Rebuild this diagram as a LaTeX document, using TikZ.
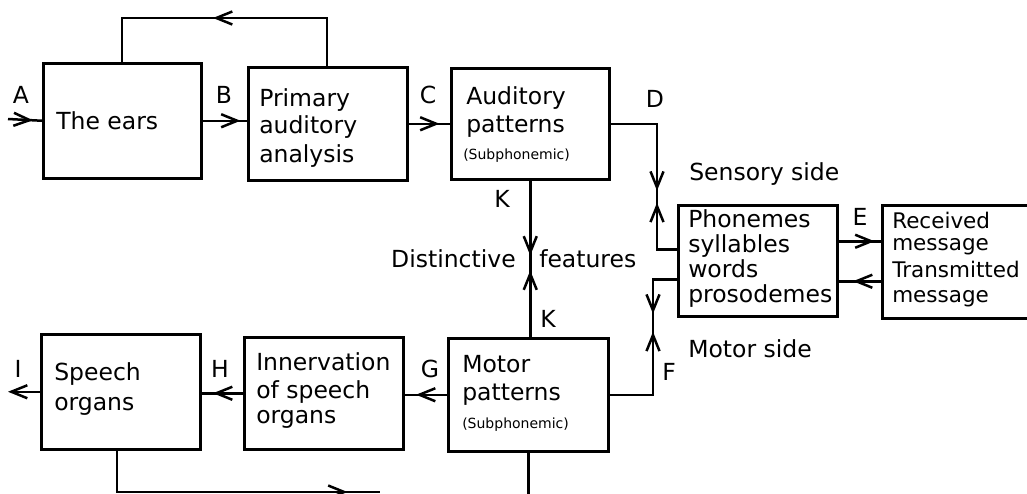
\documentclass[tikz,border=0pt]{standalone}
\usepackage{fontspec}
\setmainfont{DejaVu Sans}
\usetikzlibrary{arrows.meta,decorations.markings}
\begin{document}
\begin{tikzpicture}[x=1pt,y=-1pt, line width=2.5pt,
  >={Straight Barb[length=16pt,width=13pt]},
  box/.style={draw, inner sep=0pt, anchor=north west},
  txt/.style={font=\fontsize{23.5}{27}\selectfont, inner sep=0pt, anchor=base west},
  rtxt/.style={font=\fontsize{21.5}{25}\selectfont, inner sep=0pt, anchor=base west},
  sml/.style={font=\fontsize{14}{17}\selectfont, inner sep=0pt, anchor=base west},
  lbl/.style={font=\fontsize{23.5}{27}\selectfont, inner sep=0pt, anchor=base},
  marks/.style={postaction={decorate}, decoration={markings, #1}}]
\useasboundingbox (0,0) rectangle (1027,493);
\clip (0,0) rectangle (1027,493);

% boxes
\node[box, minimum width=158pt, minimum height=115pt] (ears) at (42,62) {};
\node[box, minimum width=159pt, minimum height=113pt] (prim) at (247,66) {};
\node[box, minimum width=158pt, minimum height=111pt] (aud) at (450,67) {};
\node[box, minimum width=159pt, minimum height=111pt] (ph) at (677,204) {};
\node[box, minimum width=170pt, minimum height=113pt] (rec) at (881,204) {};
\node[box, minimum width=160pt, minimum height=113pt] (motor) at (447,337) {};
\node[box, minimum width=159pt, minimum height=112pt] (innerv) at (243,336) {};
\node[box, minimum width=159pt, minimum height=115pt] (speech) at (40,333) {};

% texts
\node[lbl] (la) at (21,103) {A};
\node[txt] (t1) at (55,129) {The ears};
\node[lbl] (lb) at (224,103) {B};
\node[txt] (t2a) at (258,106) {Primary};
\node[txt] (t2b) at (258,133) {auditory};
\node[txt] (t2c) at (258,162) {analysis};
\node[lbl] (lc) at (428,103) {C};
\node[txt] (t3a) at (465,104) {Auditory};
\node[txt] (t3b) at (465,132) {patterns};
\node[sml] (t3c) at (462,159) {(Subphonemic)};
\node[lbl] (ld) at (655,107) {D};
\node[txt] (sens) at (688,180) {Sensory side};
\node[lbl] (lk1) at (502,207) {K};
\node[txt, anchor=base east] (dist) at (517,267) {Distinctive};
\node[txt] (feat) at (538,267) {features};
\node[txt] (t4a) at (687,227) {Phonemes};
\node[txt] (t4b) at (687,252) {syllables};
\node[txt] (t4c) at (687,277) {words};
\node[txt] (t4d) at (687,302) {prosodemes};
\node[lbl] (le) at (860,225) {E};
\node[rtxt] (t5a) at (891,228) {Received};
\node[rtxt] (t5b) at (891,250) {message};
\node[rtxt] (t5c) at (891,277) {Transmitted};
\node[rtxt] (t5d) at (891,302) {message};
\node[lbl] (lk2) at (548,327) {K};
\node[txt] (mside) at (687,357) {Motor side};
\node[lbl] (lf) at (669,380) {F};
\node[txt] (t6a) at (461,372) {Motor};
\node[txt] (t6b) at (461,400) {patterns};
\node[sml] (t6c) at (461,428) {(Subphonemic)};
\node[lbl] (lg) at (430,377) {G};
\node[lbl] (lh) at (220,377) {H};
\node[lbl] (li) at (18,377) {I};
\node[txt] (t7a) at (53,380) {Speech};
\node[txt] (t7b) at (53,410) {organs};
\node[txt] (t8a) at (255,370) {Innervation};
\node[txt] (t8b) at (255,398) {of speech};
\node[txt] (t8c) at (255,423) {organs};

% helper coordinates
\coordinate (ain) at (8,119);
\coordinate (fb1) at (327,18);
\coordinate (fb2) at (122,18);
\coordinate (dx) at (657,0);
\coordinate (dph) at ([yshift=11.5pt]ph.west);
\coordinate (fx) at (653,0);
\coordinate (fph) at ([yshift=-18.5pt]ph.west);
\coordinate (eph) at ([yshift=19.5pt]ph.east);
\coordinate (tph) at ([yshift=-20.5pt]ph.east);
\coordinate (iout) at (8,0);
\coordinate (sb) at (117,492);
\coordinate (se) at (380,492);
\coordinate (mb) at (0,498);

% connectors
\draw[marks={mark=at position 25pt with {\arrow{>}}}] (ain) -- (ears.west);
\draw[marks={mark=at position 162pt with {\arrow{>}}}]
  (prim.north -| fb1) -- (fb1) -- (fb2) -- (ears.north -| fb2);
\draw[marks={mark=at position 38pt with {\arrow{>}}}] (ears.east) -- (ears.east -| prim.west);
\draw[marks={mark=at position 31pt with {\arrow{>}}}] (prim.east) -- (prim.east -| aud.west);
\draw[marks={mark=at position 113.5pt with {\arrow{>}}, mark=at position 125.5pt with {\arrowreversed{>}}}]
  (aud.east) -- (aud.east -| dx) -- (dx |- dph) -- (dph);
\draw[marks={mark=at position 36pt with {\arrow{>}}}] (eph) -- (eph -| rec.west);
\draw[marks={mark=at position 28pt with {\arrow{>}}}] (tph -| rec.west) -- (tph);
\draw[marks={mark=at position 75pt with {\arrow{>}}, mark=at position 90pt with {\arrowreversed{>}}}]
  (aud.south) -- (aud.south |- motor.north);
\draw[marks={mark=at position 106.5pt with {\arrow{>}}, mark=at position 124.5pt with {\arrowreversed{>}}}]
  (motor.east) -- (motor.east -| fx) -- (fx |- fph) -- (fph);
\draw[marks={mark=at position 31pt with {\arrow{>}}}] (motor.west) -- (motor.west -| innerv.east);
\draw[marks={mark=at position 30pt with {\arrow{>}}}] (innerv.west) -- (innerv.west -| speech.east);
\draw[->] (speech.west) -- (speech.west -| iout);
\draw[marks={mark=at position 272pt with {\arrow{>}}}] (speech.south -| sb) -- (sb) -- (se);
\draw (motor.south) -- (motor.south |- mb);
\end{tikzpicture}
\end{document}
